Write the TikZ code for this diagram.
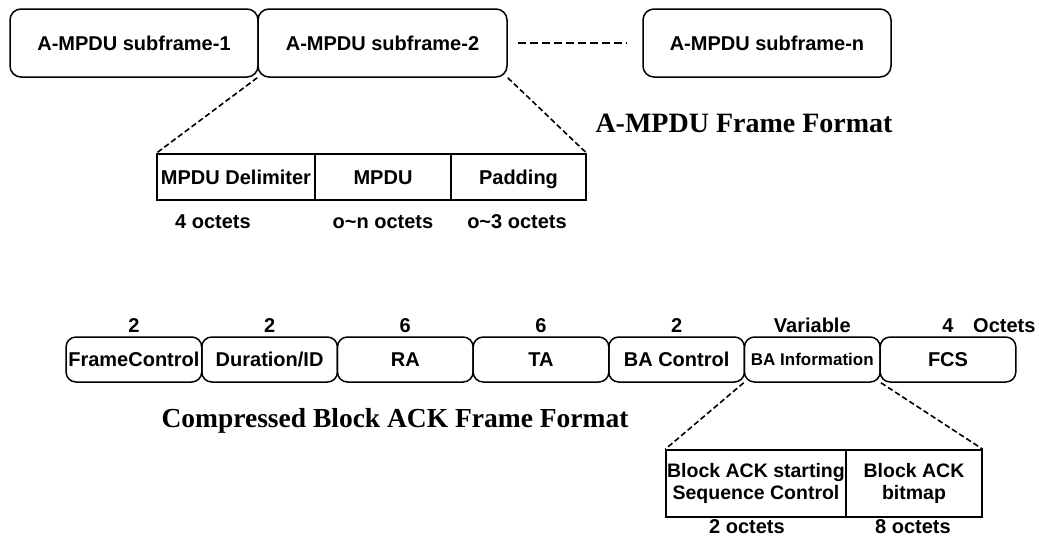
\documentclass[tikz,border=0pt]{standalone}
\usepackage{fontspec}
\setmainfont{Liberation Serif}
\setsansfont{Liberation Sans}
\begin{document}
\begin{tikzpicture}[x=1pt,y=-1pt,
  lbl/.style={font=\sffamily\bfseries\fontsize{20}{24}\selectfont, inner sep=0pt},
  rbox/.style={draw, line width=1.5pt, rounded corners=11pt, inner sep=0pt,
    text height=14.5pt, text depth=0pt,
    font=\sffamily\bfseries\fontsize{20}{24}\selectfont},
  fbox/.style={rbox, rounded corners=10pt, minimum width=135.7pt, minimum height=45pt},
  cellbase/.style={draw, line width=1.5pt, inner sep=0pt,
    font=\sffamily\bfseries\fontsize{20}{24}\selectfont},
  cell/.style={cellbase, text height=14.5pt, text depth=0pt},
  twoline/.style={cellbase, align=center, minimum height=67pt,
    font=\sffamily\bfseries\fontsize{19.5}{22}\selectfont},
  title/.style={font=\rmfamily\bfseries\fontsize{28}{32}\selectfont, inner sep=0pt, anchor=base},
  zoomline/.style={line width=1.6pt, dash pattern=on 5.5pt off 3pt},
  gapline/.style={line width=2pt, dash pattern=on 8pt off 4pt}
]
\useasboundingbox (0,0) rectangle (1039,538);

% A-MPDU subframes
\node[rbox, minimum width=248pt, minimum height=68pt] (s1) at (134,43) {A-MPDU subframe-1};
\node[rbox, minimum width=249pt, minimum height=68pt] (s2) at (382.5,43) {A-MPDU subframe-2};
\node[rbox, minimum width=248pt, minimum height=68pt] (sn) at (767,43) {A-MPDU subframe-n};
\draw[gapline, shorten <=10pt, shorten >=16pt] (s2) -- (sn);

\node[title] (t1) at (744,132) {A-MPDU Frame Format};

% subframe contents
\node[cell, minimum width=158pt, minimum height=46pt] (d1) at (236,177) {MPDU Delimiter};
\node[cell, minimum width=136pt, minimum height=46pt] (d2) at (383,177) {MPDU};
\node[cell, minimum width=135pt, minimum height=46pt] (d3) at (518.5,177) {Padding};
\draw[zoomline] (s2.south west) -- (d1.north west);
\draw[zoomline] (s2.south east) -- (d3.north east);

\node[lbl, anchor=base] (o1) at (213,228) {4 octets};
\node[lbl, anchor=base] (o2) at (383,228) {o\textasciitilde n octets};
\node[lbl, anchor=base] (o3) at (517,228) {o\textasciitilde 3 octets};

% Compressed Block ACK fields
\node[fbox] (f1) at (133.9,359.5) {FrameControl};
\node[fbox] (f2) at (269.6,359.5) {Duration/ID};
\node[fbox] (f3) at (405.3,359.5) {RA};
\node[fbox] (f4) at (541,359.5) {TA};
\node[fbox] (f5) at (676.6,359.5) {BA Control};
\node[fbox, font=\sffamily\bfseries\fontsize{17}{20}\selectfont, text height=12.5pt] (f6) at (812.3,359.5) {BA Information};
\node[fbox] (f7) at (948,359.5) {FCS};

\node[lbl, anchor=base] (n1) at (133.9,332) {2};
\node[lbl, anchor=base] (n2) at (269.6,332) {2};
\node[lbl, anchor=base] (n3) at (405.3,332) {6};
\node[lbl, anchor=base] (n4) at (541,332) {6};
\node[lbl, anchor=base] (n5) at (676.6,332) {2};
\node[lbl, anchor=base] (n6) at (812.3,332) {Variable};
\node[lbl, anchor=base] (n7) at (948,332) {4};
\node[lbl, anchor=base west] (unit) at (973,332) {Octets};

\node[title, font=\rmfamily\bfseries\fontsize{27.5}{32}\selectfont] (t2) at (395,427) {Compressed Block ACK Frame Format};

% BA Information contents
\node[twoline, minimum width=180pt] (b1) at (756,483.5) {Block ACK starting\\Sequence Control};
\node[twoline, minimum width=136pt] (b2) at (914,483.5) {Block ACK\\bitmap};
\draw[zoomline] (f6.south west) -- (b1.north west);
\draw[zoomline] (f6.south east) -- (b2.north east);

\node[lbl, anchor=base] (q1) at (747,533) {2 octets};
\node[lbl, anchor=base] (q2) at (913,533) {8 octets};
\end{tikzpicture}
\end{document}
